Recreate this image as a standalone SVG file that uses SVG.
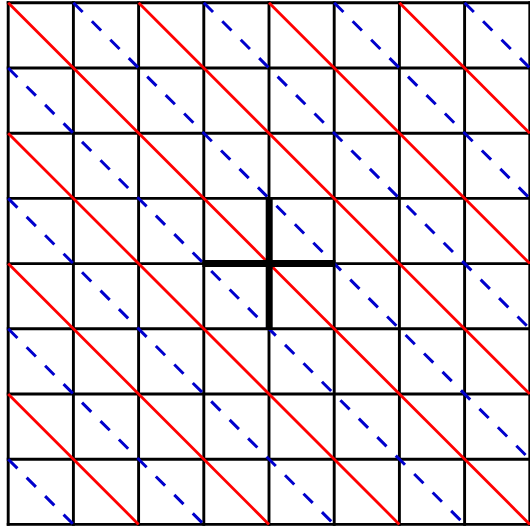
<svg xmlns="http://www.w3.org/2000/svg" width="530" height="527" viewBox="0 0 530 527">
<style>
.grid{stroke:#000;stroke-width:2.9;fill:none;stroke-linecap:square}
.red{stroke:#ff0000;stroke-width:2.8;fill:none}
.blue{stroke:#0000cc;stroke-width:3;fill:none;stroke-dasharray:13.05 13.05}
.cross{stroke:#000;stroke-width:7;fill:none;stroke-linecap:butt}
</style>
<rect width="530" height="527" fill="#fff"/>
<g id="grid" class="grid">
<path d="M8.2 2.8V524.4M73.4 2.8V524.4M138.6 2.8V524.4M203.8 2.8V524.4M269 2.8V524.4M334.2 2.8V524.4M399.4 2.8V524.4M464.6 2.8V524.4M529.8 2.8V524.4"/>
<path d="M8.2 2.8H529.8M8.2 68H529.8M8.2 133.2H529.8M8.2 198.4H529.8M8.2 263.6H529.8M8.2 328.8H529.8M8.2 394H529.8M8.2 459.2H529.8M8.2 524.4H529.8"/>
</g>
<g id="red-diagonals" class="red">
<line x1="8.2" y1="2.8" x2="529.8" y2="524.4"/>
<line x1="138.6" y1="2.8" x2="529.8" y2="394"/>
<line x1="269" y1="2.8" x2="529.8" y2="263.6"/>
<line x1="399.4" y1="2.8" x2="529.8" y2="133.2"/>
<line x1="8.2" y1="133.2" x2="399.4" y2="524.4"/>
<line x1="8.2" y1="263.6" x2="269" y2="524.4"/>
<line x1="8.2" y1="394" x2="138.6" y2="524.4"/>
</g>
<g id="blue-diagonals" class="blue">
<line x1="73.4" y1="2.8" x2="529.8" y2="459.2"/>
<line x1="203.8" y1="2.8" x2="529.8" y2="328.8"/>
<line x1="334.2" y1="2.8" x2="529.8" y2="198.4"/>
<line x1="464.6" y1="2.8" x2="529.8" y2="68"/>
<line x1="8.2" y1="68" x2="464.6" y2="524.4"/>
<line x1="8.2" y1="198.4" x2="334.2" y2="524.4"/>
<line x1="8.2" y1="328.8" x2="203.8" y2="524.4"/>
<line x1="8.2" y1="459.2" x2="73.4" y2="524.4"/>
</g>
<g id="cross" class="cross">
<line x1="202.4" y1="263.6" x2="335.4" y2="263.6"/>
<line x1="269.2" y1="197.2" x2="269.2" y2="330.1"/>
</g>
</svg>
